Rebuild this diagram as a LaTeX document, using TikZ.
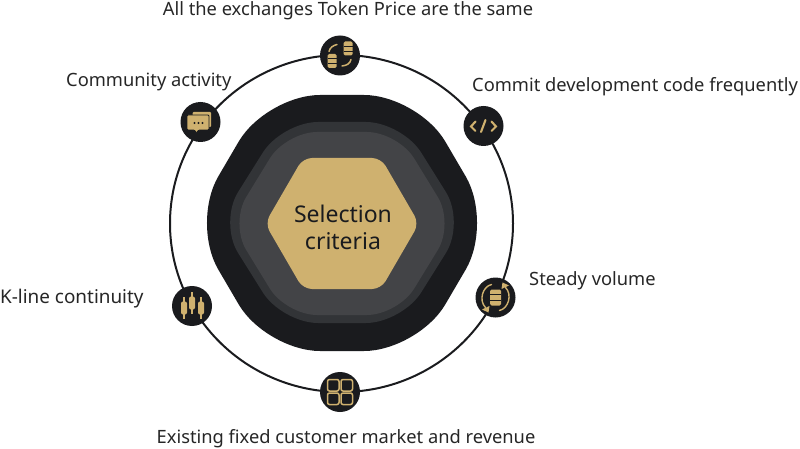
\documentclass[tikz,border=0pt]{standalone}
\usepackage{fontspec}
\setmainfont{Noto Sans}
\definecolor{inkdark}{HTML}{1A1B1E}
\definecolor{hexmid}{HTML}{323437}
\definecolor{hexlight}{HTML}{434447}
\definecolor{goldfill}{HTML}{CFB16F}
\tikzset{
    dbstack/.pic={
        \fill[goldfill, rounded corners=1.5pt] (-4.5,-7) rectangle (4.5,7);
        \draw[inkdark, line width=0.7pt] (-4.5,-2.4) -- (4.5,-2.4) (-4.5,2.4) -- (4.5,2.4);
    }
}
\begin{document}
\begin{tikzpicture}
        [x=1pt, y=-1pt,
        icon/.style={circle, fill=inkdark, minimum size=40pt, inner sep=0pt},
        label/.style={font=\fontsize{18.3}{22}\selectfont, text=black!85, inner sep=0pt},
        goldline/.style={goldfill, line width=1.5pt, line cap=round},
        ring/.style={inkdark, line width=2pt}]

        \useasboundingbox (0,0) rectangle (800,449);

        % ring behind everything
        \draw[ring] (341.5,223.5) ellipse [x radius=171.5, y radius=168.5];

        % nested hexagons
        \fill[inkdark, rounded corners=54pt] (191,223) -- (266,95) -- (418,95) -- (493,223) -- (418,351) -- (266,351) -- cycle;
        \fill[hexmid, rounded corners=36pt] (219,222.5) -- (282,122) -- (402,122) -- (465,222.5) -- (402,323) -- (282,323) -- cycle;
        \fill[hexlight, rounded corners=31pt] (230,223.5) -- (286,132) -- (398,132) -- (454,223.5) -- (398,315) -- (286,315) -- cycle;
        \fill[goldfill, rounded corners=9pt] (265,223.5) -- (303,158) -- (381,158) -- (419,223.5) -- (381,289) -- (303,289) -- cycle;
        \node[font=\fontsize{23}{27}\selectfont, text=inkdark, align=center, inner sep=0pt] (crit) at (343,227) {Selection\\criteria};

        % icons on the ring
        \node[icon] (token) at (340,55.5) {};
        \node[icon] (code) at (483.5,126) {};
        \node[icon] (volume) at (495.5,297.5) {};
        \node[icon] (grid) at (340,392) {};
        \node[icon] (candle) at (192,306) {};
        \node[icon] (chat) at (200.5,122) {};

        % labels
        \node[label] (ltoken) at (348,10.5) {All the exchanges Token Price are the same};
        \node[label, anchor=west] (lcode) at (472,86.5) {Commit development code frequently};
        \node[label, anchor=west] (lvolume) at (529,281) {Steady volume};
        \node[label] (lgrid) at (346,439) {Existing fixed customer market and revenue};
        \node[label, anchor=west, font=\fontsize{18.9}{22}\selectfont] (lcandle) at (0,299) {K-line continuity};
        \node[label, anchor=west] (lchat) at (66,82) {Community activity};

        % token icon
        \begin{scope}[shift={(token)}]
            \pic at (8,-7) {dbstack};
            \pic at (-8,5.5) {dbstack};
            \draw[goldline] (-11,-4) .. controls (-10,-8) and (-7,-10) .. (-3,-11);
            \draw[goldline] (11,4) .. controls (10,8) and (7,10) .. (2,10.5);
        \end{scope}

        % code icon
        \begin{scope}[shift={(code)}]
            \draw[goldline, line width=2.1pt] (-8,-4.5) -- (-12.5,0.5) -- (-8,5);
            \draw[goldline, line width=2.1pt] (-2.5,6) -- (2,-6);
            \draw[goldline, line width=2.1pt] (8,-4.5) -- (12.5,0.5) -- (8,5);
        \end{scope}

        % volume icon
        \begin{scope}[shift={(volume)}]
            \fill[goldfill, rounded corners=1.5pt] (-5.5,-8) rectangle (5.5,8);
            \draw[inkdark, line width=0.8pt] (-5.5,-2.7) -- (5.5,-2.7) (-5.5,2.7) -- (5.5,2.7);
            \draw[goldline, line width=1.4pt] (-4,-13) .. controls (-13,-11) and (-17,3) .. (-10,10);
            \draw[goldline, line width=1.4pt] (4,13) .. controls (13,11) and (17,-3) .. (10,-10);
            \fill[goldfill] (-13.5,12) -- (-6,8.5) -- (-7,15) -- cycle;
            \fill[goldfill] (13.5,-12) -- (6,-8.5) -- (7,-15) -- cycle;
        \end{scope}

        % grid icon
        \begin{scope}[shift={(grid)}]
            \foreach \gx in {-12.5,1}
                \foreach \gy in {-12.5,1}
                    \draw[goldfill, line width=1.5pt, rounded corners=2pt] (\gx,\gy) rectangle ++(11.5,11.5);
        \end{scope}

        % candle icon
        \begin{scope}[shift={(candle)}]
            \foreach \cx/\cy in {-8/2, 0/-3, 9/2} {
                \draw[goldfill, line width=1.3pt] (\cx,\cy-11) -- (\cx,\cy+11);
                \fill[goldfill, rounded corners=2pt] (\cx-3,\cy-6.5) rectangle (\cx+3,\cy+6.5);
            }
        \end{scope}

        % chat icon
        \begin{scope}[shift={(chat)}]
            \fill[goldfill, rounded corners=1pt] (-8,-10) rectangle (10.5,5);
            \fill[goldfill, draw=inkdark, line width=0.8pt, rounded corners=1pt] (-13.5,-7) -- (8.5,-7) -- (8.5,8) -- (-2,8) -- (-4,11) -- (-6,8) -- (-13.5,8) -- cycle;
            \foreach \dx in {-6,-2,2}
                \fill[inkdark] (\dx,1) circle (1.2);
        \end{scope}
    \end{tikzpicture}
\end{document}
